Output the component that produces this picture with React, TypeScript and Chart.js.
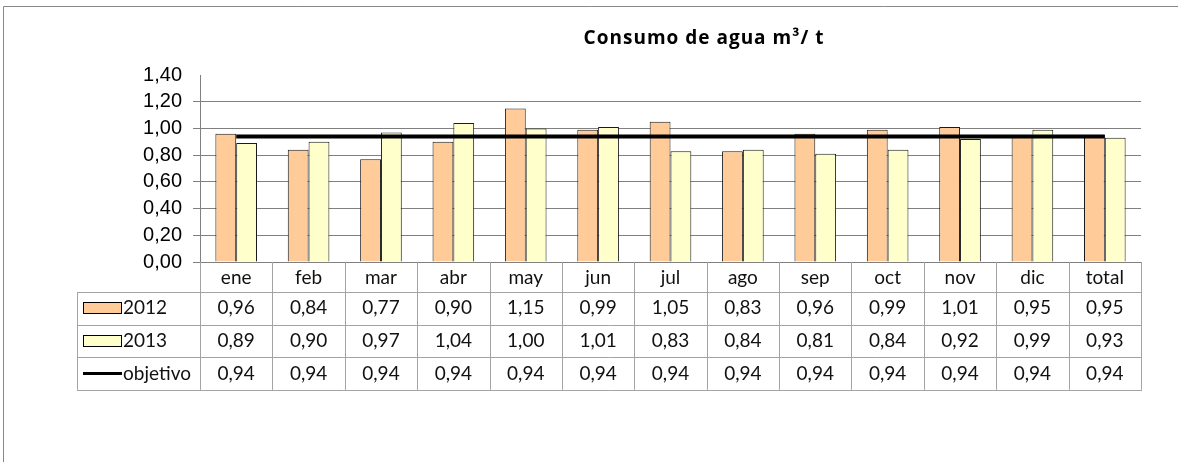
import React, { useEffect, useRef } from 'react';
import { Chart, registerables } from 'chart.js';

Chart.register(...registerables);

const categories = ['ene', 'feb', 'mar', 'abr', 'may', 'jun', 'jul', 'ago', 'sep', 'oct', 'nov', 'dic', 'total'];
const values2012 = [0.96, 0.84, 0.77, 0.9, 1.15, 0.99, 1.05, 0.83, 0.96, 0.99, 1.01, 0.95, 0.95];
const values2013 = [0.89, 0.9, 0.97, 1.04, 1.0, 1.01, 0.83, 0.84, 0.81, 0.84, 0.92, 0.99, 0.93];
const valuesObjetivo = [0.94, 0.94, 0.94, 0.94, 0.94, 0.94, 0.94, 0.94, 0.94, 0.94, 0.94, 0.94, 0.94];
const seriesNames = ['2012', '2013', 'objetivo'];
const yTickValues = [0, 0.2, 0.4, 0.6, 0.8, 1.0, 1.2, 1.4];
const titleText = 'Consumo de agua m³/ t';

const fmt = (v: number) => v.toFixed(2).replace('.', ',');

const tablePlugin = {
  id: 'dataTable',
  afterDraw(chart: any) {
    const ctx = chart.ctx as CanvasRenderingContext2D;
    const xs = chart.scales.x;
    const area = chart.chartArea;
    const n = chart.data.labels.length;
    const cw = (area.right - area.left) / n;
    const tableTop = area.bottom;
    const headerBottom = xs.bottom;
    const rowH = 32.6;
    const datasets = chart.data.datasets;
    const rows = datasets.length;
    const tableBottom = headerBottom + rows * rowH;
    const legendLeft = 77;

    ctx.save();
    ctx.strokeStyle = '#a3a3a3';
    ctx.lineWidth = 1;
    ctx.beginPath();
    for (let k = 0; k <= n; k++) {
      const px = Math.round(area.left + k * cw) + 0.5;
      ctx.moveTo(px, tableTop);
      ctx.lineTo(px, tableBottom);
    }
    ctx.moveTo(legendLeft + 0.5, headerBottom);
    ctx.lineTo(legendLeft + 0.5, tableBottom);
    for (let r = 0; r <= rows; r++) {
      const py = Math.round(headerBottom + r * rowH) + 0.5;
      ctx.moveTo(legendLeft, py);
      ctx.lineTo(Math.round(area.right) + 1, py);
    }
    ctx.stroke();

    ctx.fillStyle = '#111';
    ctx.font = '19px Lato';
    ctx.textAlign = 'center';
    ctx.textBaseline = 'middle';
    datasets.forEach((ds: any, r: number) => {
      const cy = headerBottom + r * rowH + rowH / 2;
      ds.data.forEach((v: number, i: number) => {
        ctx.fillText(fmt(v), xs.getPixelForValue(i), cy);
      });
      if (ds.type === 'line') {
        ctx.strokeStyle = '#000';
        ctx.lineWidth = 3;
        ctx.beginPath();
        ctx.moveTo(83, Math.round(cy) - 0.5);
        ctx.lineTo(122, Math.round(cy) - 0.5);
        ctx.stroke();
      } else {
        ctx.fillStyle = ds.backgroundColor;
        ctx.fillRect(83, Math.round(cy) - 6, 38, 11);
        ctx.strokeStyle = '#000';
        ctx.lineWidth = 1;
        ctx.strokeRect(83.5, Math.round(cy) - 5.5, 38, 11);
      }
      ctx.fillStyle = '#111';
      ctx.textAlign = 'left';
      ctx.fillText(ds.label, 123, cy);
      ctx.textAlign = 'center';
    });

    // title
    ctx.fillStyle = '#000';
    ctx.font = 'bold 19px "Open Sans"';
    (ctx as any).letterSpacing = '1px';
    ctx.textAlign = 'center';
    ctx.textBaseline = 'middle';
    ctx.fillText(titleText, 704, 39);
    (ctx as any).letterSpacing = '0px';

    // outer frame
    ctx.strokeStyle = '#888';
    ctx.lineWidth = 1;
    ctx.beginPath();
    ctx.moveTo(3.5, chart.height);
    ctx.lineTo(3.5, 6.5);
    ctx.lineTo(chart.width, 6.5);
    ctx.stroke();
    ctx.restore();
  },
};

export default function App() {
  const ref = useRef<HTMLCanvasElement | null>(null);

  useEffect(() => {
    if (!ref.current) return;
    const chart = new Chart(ref.current, {
      type: 'bar',
      data: {
        labels: categories,
        datasets: [
          {
            type: 'bar',
            label: seriesNames[0],
            data: values2012,
            backgroundColor: '#FFCC99',
            borderColor: '#1a1a1a',
            borderWidth: 1,
            categoryPercentage: 0.575,
            barPercentage: 1,
            order: 2,
          } as any,
          {
            type: 'bar',
            label: seriesNames[1],
            data: values2013,
            backgroundColor: '#FFFFCC',
            borderColor: '#1a1a1a',
            borderWidth: 1,
            categoryPercentage: 0.575,
            barPercentage: 1,
            order: 2,
          } as any,
          {
            type: 'line',
            label: seriesNames[2],
            data: valuesObjetivo,
            borderColor: '#000',
            borderWidth: 4,
            pointRadius: 0,
            fill: false,
            order: 0,
          } as any,
        ],
      },
      options: {
        responsive: false,
        animation: false,
        devicePixelRatio: 1,
        layout: { padding: { top: 75, left: 0, right: 37, bottom: 170 } },
        plugins: {
          legend: { display: false },
          title: { display: false },
          tooltip: { enabled: false },
        },
        scales: {
          x: {
            grid: { display: false, drawTicks: false },
            border: { display: true, color: '#808080', width: 1 },
            ticks: {
              color: '#111',
              font: { family: 'Lato', size: 19 },
              padding: 4,
              maxRotation: 0,
              autoSkip: false,
            },
            afterFit: (scale: any) => {
              scale.height = 30;
            },
          },
          y: {
            min: 0,
            max: 1.4,
            afterBuildTicks: (scale: any) => {
              scale.ticks = yTickValues.map((v) => ({ value: v }));
            },
            afterFit: (scale: any) => {
              scale.width = 200;
            },
            grid: {
              color: (c: any) => (c.tick && c.tick.value >= 1.39 ? 'rgba(0,0,0,0)' : '#808080'),
              tickLength: 7,
              drawTicks: true,
            },
            border: { display: true, color: '#808080', width: 1 },
            ticks: {
              color: '#000',
              font: { family: 'Liberation Sans', size: 20 },
              padding: 11,
              autoSkip: false,
              callback: (v: any) => fmt(Number(v)),
            },
          },
        },
      },
      plugins: [tablePlugin],
    });
    return () => chart.destroy();
  }, []);

  return (
    <div style={{ position: 'fixed', left: 0, top: 0, width: 1178, height: 462, background: '#fff' }}>
      <canvas ref={ref} width={1178} height={462} style={{ display: 'block' }} />
    </div>
  );
}
